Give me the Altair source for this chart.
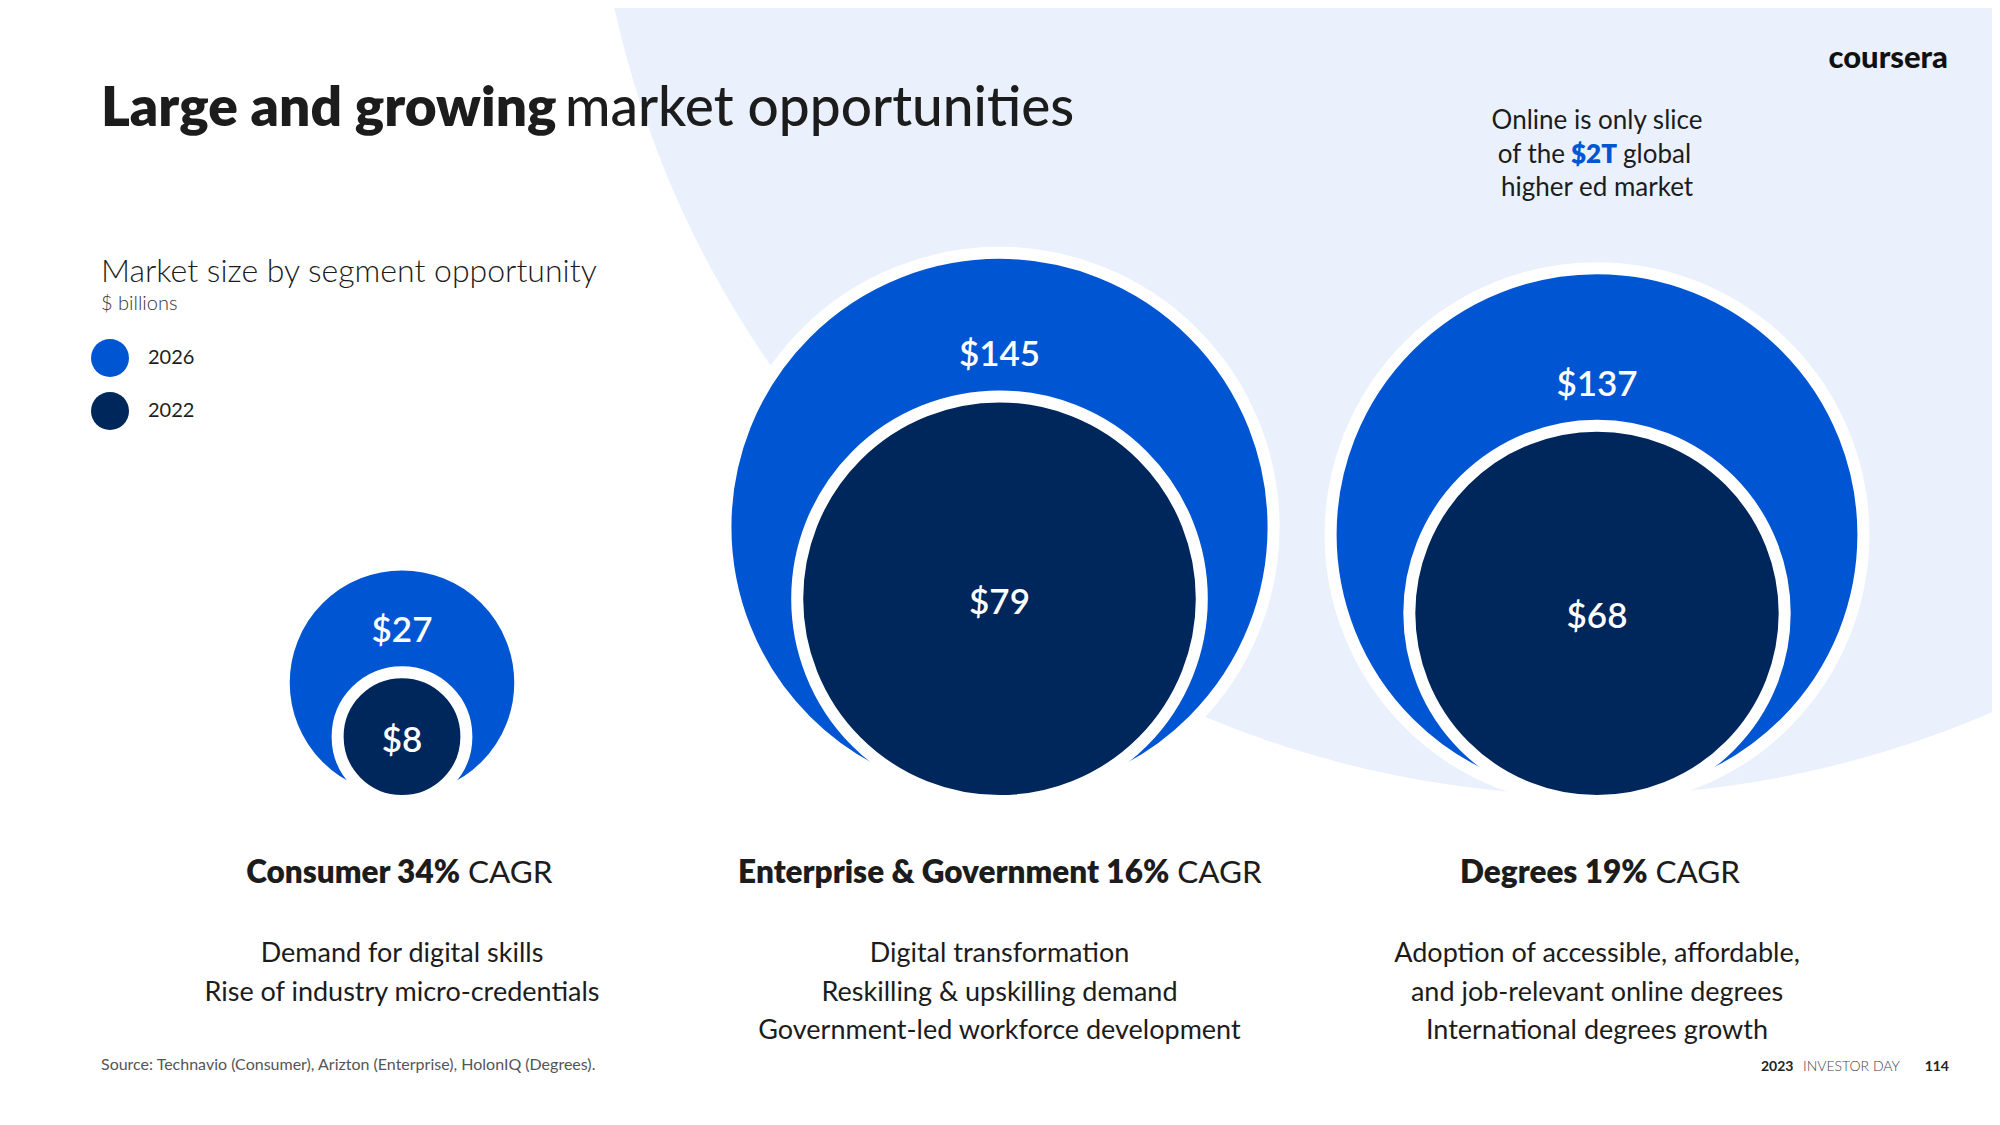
import altair as alt
import pandas as pd

# ---------------- data ----------------
segments = ["Consumer", "Enterprise & Government", "Degrees"]
cagr = ["34%", "16%", "19%"]
market_2022 = [8, 79, 68]
market_2026 = [27, 145, 137]
years = ["2026", "2022"]
drivers = [
    ["Demand for digital skills", "Rise of industry micro-credentials"],
    ["Digital transformation", "Reskilling & upskilling demand",
     "Government-led workforce development"],
    ["Adoption of accessible, affordable,", "and job-relevant online degrees",
     "International degrees growth"],
]

# ---------------- style ----------------
FONT = "Lato"
INK = "#1c1c1c"
BLUE = "#0056D2"
NAVY = "#00275C"
BG = "#EAF1FD"
K = 22.76            # px per sqrt($B) (circle radius)
BASE = 793           # px, bottom of bubbles
W, H = 1984, 1109

rows = []
for s, a, b in zip(segments, market_2022, market_2026):
    rows.append({"segment": s, "year": "2026", "value": b, "base": a, "ord": 0})
    rows.append({"segment": s, "year": "2022", "value": a, "base": a, "ord": 1})
bubbles = pd.DataFrame(rows)

heads = pd.DataFrame({
    "segment": segments,
    "bold": [f"{s} {c}" for s, c in zip(segments, cagr)],
    "lines": drivers,
})

one = pd.DataFrame({"k": [0]})

xscale = alt.Scale(type="point", domain=segments, range=[394, 1589], padding=0)
yscale = alt.Scale(domain=[0, BASE / K], range=[BASE, 0])
xenc = alt.X("segment:N", scale=xscale, axis=None)

# background arc (Vega circle: size = (2r)^2)
bg = alt.Chart(one).mark_circle(color=BG, opacity=1).encode(
    x=alt.value(1585), y=alt.value(-215), size=alt.value(4 * 1002 ** 2)
)

circles = alt.Chart(bubbles).transform_calculate(
    u="sqrt(datum.value)"
).mark_circle(opacity=1, stroke="white", strokeWidth=12).encode(
    x=xenc,
    y=alt.Y("u:Q", scale=yscale, axis=None),
    size=alt.Size("value:Q", scale=alt.Scale(type="linear", domain=[0, 145],
                  range=[0, 4 * K * K * 145]), legend=None),
    color=alt.Color("year:N", scale=alt.Scale(domain=years, range=[BLUE, NAVY]),
                    legend=alt.Legend(title=None, orient="none", legendX=83, legendY=331,
                                      symbolSize=1444, symbolType="circle",
                                      symbolStrokeWidth=0, symbolOpacity=1,
                                      labelFontSize=20, labelFont=FONT, labelColor=INK,
                                      labelOffset=19, rowPadding=15, padding=0)),
    order=alt.Order("ord:Q"),
)

labels = alt.Chart(bubbles).transform_calculate(
    lu="datum.year == '2026' ? 2 * sqrt(datum.base) + 1.98 : sqrt(datum.value)",
    lab="'$' + datum.value",
).mark_text(color="white", font=FONT, fontSize=35, fontWeight=600, baseline="middle",
            align="center", dy=4).encode(
    x=xenc,
    y=alt.Y("lu:Q", scale=yscale, axis=None),
    text="lab:N",
)

head_calc = alt.Chart(heads).transform_calculate(
    off="(length(datum.bold) * 14.9 - 62.8) / 2"
)
head_bold = head_calc.mark_text(font=FONT, fontSize=31.5, fontWeight=800, color=INK,
                                align="right", baseline="alphabetic").encode(
    x=xenc, xOffset=alt.XOffset("off:Q", scale=None), y=alt.value(875), text="bold:N")
head_reg = head_calc.mark_text(font=FONT, fontSize=31.5, fontWeight=400, color=INK,
                               align="left", baseline="alphabetic", text="CAGR", dx=8).encode(
    x=xenc, xOffset=alt.XOffset("off:Q", scale=None), y=alt.value(875))

desc = alt.Chart(heads).mark_text(font=FONT, fontSize=27, color=INK, align="center",
                                  baseline="alphabetic", lineHeight=38.5).encode(
    x=xenc, y=alt.value(954), text="lines")


def note(text, x, y, size, weight=400, color=INK, align="left", dx=0):
    return alt.Chart(one).mark_text(text=text, font=FONT, fontSize=size, fontWeight=weight,
                                    color=color, align=align, baseline="alphabetic",
                                    dx=dx).encode(x=alt.value(x), y=alt.value(y))


def side(text, y, weight=400, color=INK, align="center", dx=0):
    return alt.Chart(one).mark_text(text=text, font=FONT, fontSize=26, fontWeight=weight,
                                    color=color, align=align, baseline="alphabetic",
                                    dx=dx).encode(x=alt.X(datum="Degrees", scale=xscale, axis=None),
                                                  y=alt.value(y))


texts = [
    note("Large and growing", 93, 118, 55, 800),
    note("market opportunities", 557, 118, 55, 500),
    note("coursera", 1940, 60, 31, 900, "#111111", "right"),
    note("Market size by segment opportunity", 93, 274, 32, 300),
    note("$ billions", 93, 302, 20, 300, "#333333"),
    note("Source: Technavio (Consumer), Arizton (Enterprise), HolonIQ (Degrees).", 93, 1062, 16,
         400, "#555555"),
    note("2023", 1753, 1063, 14, 700, "#222222"),
    note("INVESTOR DAY", 1795, 1063, 14, 300, "#444444"),
    note("114", 1941, 1063, 14, 700, "#222222", "right"),
    side("Online is only slice", 121),
    side("of the", 155, align="right", dx=-32),
    side("$2T", 155, weight=800, color=BLUE, dx=-3),
    side("global", 155, align="left", dx=26),
    side("higher ed market", 188),
]

chart = alt.layer(bg, circles, labels, head_bold, head_reg, desc, *texts).properties(
    width=W, height=H,
    autosize=alt.AutoSizeParams(type="none"),
    padding=0,
).configure(background="white", view=alt.ViewConfig(stroke=None))

chart.save("out.html", embed_options={"renderer": "svg", "actions": False})
